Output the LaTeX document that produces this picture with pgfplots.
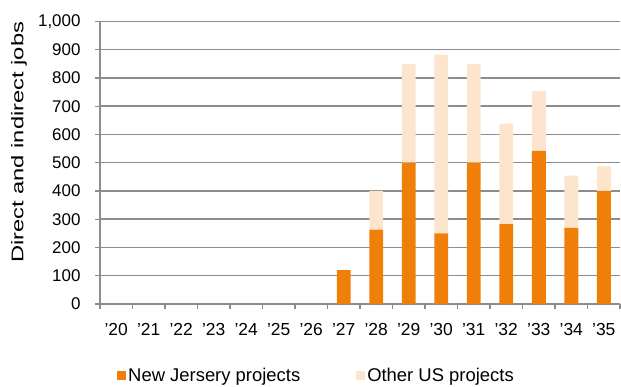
\documentclass[border=0pt]{standalone}
\usepackage{pgfplots}
\pgfplotsset{compat=1.18}
\usepackage{fontspec}
\defaultfontfeatures{}
\setmainfont{Liberation Sans}
\newfontfamily\ylabfont[FakeStretch=1.4]{Liberation Sans}
\definecolor{nj}{HTML}{F07F09}
\definecolor{us}{HTML}{FDE5CD}
\definecolor{gridc}{HTML}{8C8C8C}
\begin{document}
\begin{tikzpicture}[x=1bp,y=1bp]
\useasboundingbox (0,0) rectangle (621,386);
\begin{axis}[
  at={(100bp,82bp)}, anchor=south west,
  scale only axis, width=520bp, height=282.6bp,
  ymin=0, ymax=1000, xmin=-0.5, xmax=15.5,
  ybar stacked, bar width=0.43,
  axis x line*=bottom, axis y line*=left,
  axis line style={gridc, line width=1.2bp, -},
  ymajorgrids, grid style={gridc, line width=1.5bp},
  ytick={0,100,...,1000},
  xtick={0,...,15},
  xticklabels={'20,'21,'22,'23,'24,'25,'26,'27,'28,'29,'30,'31,'32,'33,'34,'35},
  major x tick style={draw=none},
  minor xtick={-0.5,0.5,...,15.5},
  minor x tick style={gridc, line width=1.2bp},
  major y tick style={gridc, line width=1.2bp},
  tick align=outside, major tick length=5bp, minor tick length=5bp,
  /pgf/number format/assume math mode=true,
  /pgf/number format/1000 sep={,},
  tick label style={font=\fontsize{17}{20}\selectfont},
  xticklabel style={font=\fontsize{17.5}{20}\selectfont, yshift=-11bp},
  yticklabel style={font=\fontsize{17}{20}\selectfont, xshift=-11bp},
  ylabel={\ylabfont Direct and indirect jobs},
  ylabel style={font=\fontsize{17}{20}\selectfont, at={(axis description cs:-0.156,0.572)}, anchor=center},
  legend style={at={(0.027,-0.212)}, anchor=north west, draw=none, fill=none,
    legend columns=2, font=\fontsize{18.5}{21}\selectfont,
    /tikz/every even column/.append style={column sep=54bp}},
  legend image code/.code={\fill[#1] (0bp,-4.5bp) rectangle (9bp,4.5bp);},
]
\addplot[fill=nj, draw=none] coordinates {(7,120) (8,263) (9,500) (10,250) (11,500) (12,283) (13,542) (14,269) (15,400)};
\addlegendentry{New Jersery projects}
\addplot[fill=us, draw=none] coordinates {(7,0) (8,137) (9,350) (10,632) (11,350) (12,355) (13,212) (14,185) (15,87)};
\addlegendentry{Other US projects}
\end{axis}
\end{tikzpicture}
\end{document}
